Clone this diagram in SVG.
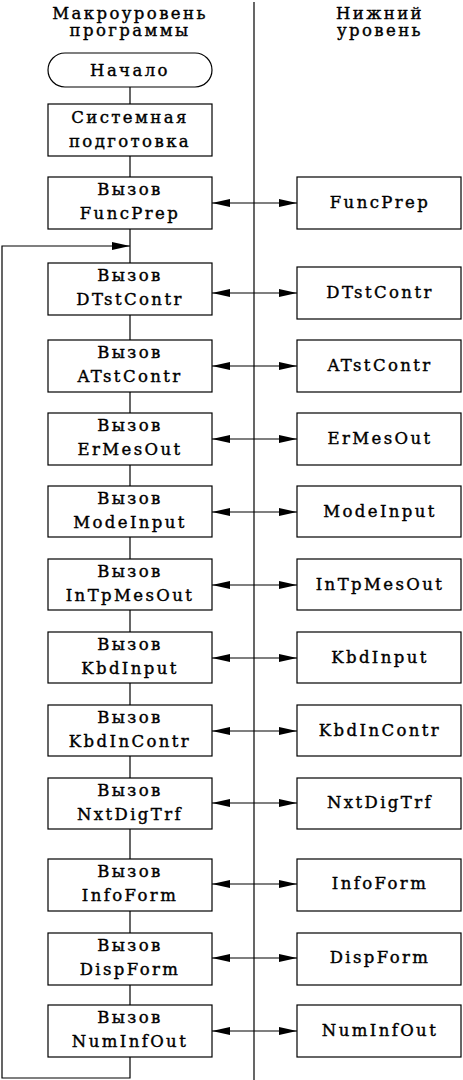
<svg xmlns="http://www.w3.org/2000/svg" width="463" height="1080" viewBox="0 0 463 1080">
<defs>
<style>
.box{fill:#fff;stroke:#000;stroke-width:1.2}
.ln{fill:none;stroke:#000;stroke-width:1.2}
text{font-family:"DejaVu Serif","Liberation Serif",serif;font-size:16.5px;fill:#000;stroke:#000;stroke-width:0.4;text-anchor:middle;letter-spacing:2.4px}
</style>
<marker id="ah" viewBox="0 0 18 8" refX="18" refY="4" markerWidth="18" markerHeight="8" markerUnits="userSpaceOnUse" orient="auto-start-reverse">
<path d="M0,0 L18,4 L0,8 Z" fill="#000"/>
</marker>
</defs>
<rect width="463" height="1080" fill="#fff"/>
<g id="headers">
<text x="130" y="19">Макроуровень</text>
<text x="130" y="36">программы</text>
<text x="380" y="19">Нижний</text>
<text x="380" y="36">уровень</text>
</g>
<g id="connectors">
<line class="ln" x1="254" y1="2" x2="254" y2="1080"/>
<line class="ln" x1="130" y1="87" x2="130" y2="104"/>
<line class="ln" x1="130" y1="156" x2="130" y2="177"/>
<line class="ln" x1="130" y1="229" x2="130" y2="263"/>
<line class="ln" x1="130" y1="315" x2="130" y2="340"/>
<line class="ln" x1="130" y1="392" x2="130" y2="413"/>
<line class="ln" x1="130" y1="465" x2="130" y2="486"/>
<line class="ln" x1="130" y1="537" x2="130" y2="559"/>
<line class="ln" x1="130" y1="610" x2="130" y2="632"/>
<line class="ln" x1="130" y1="683" x2="130" y2="705"/>
<line class="ln" x1="130" y1="756" x2="130" y2="778"/>
<line class="ln" x1="130" y1="829" x2="130" y2="859"/>
<line class="ln" x1="130" y1="911" x2="130" y2="933"/>
<line class="ln" x1="130" y1="985" x2="130" y2="1005"/>
<path class="ln" d="M130,1057 V1078 H2 V246 H130" marker-end="url(#ah)"/>
<line class="ln" x1="212" y1="203" x2="297" y2="203" marker-start="url(#ah)" marker-end="url(#ah)"/>
<line class="ln" x1="212" y1="293" x2="297" y2="293" marker-start="url(#ah)" marker-end="url(#ah)"/>
<line class="ln" x1="212" y1="366" x2="297" y2="366" marker-start="url(#ah)" marker-end="url(#ah)"/>
<line class="ln" x1="212" y1="439" x2="297" y2="439" marker-start="url(#ah)" marker-end="url(#ah)"/>
<line class="ln" x1="212" y1="512" x2="297" y2="512" marker-start="url(#ah)" marker-end="url(#ah)"/>
<line class="ln" x1="212" y1="585" x2="297" y2="585" marker-start="url(#ah)" marker-end="url(#ah)"/>
<line class="ln" x1="212" y1="658" x2="297" y2="658" marker-start="url(#ah)" marker-end="url(#ah)"/>
<line class="ln" x1="212" y1="731" x2="297" y2="731" marker-start="url(#ah)" marker-end="url(#ah)"/>
<line class="ln" x1="212" y1="803" x2="297" y2="803" marker-start="url(#ah)" marker-end="url(#ah)"/>
<line class="ln" x1="212" y1="884" x2="297" y2="884" marker-start="url(#ah)" marker-end="url(#ah)"/>
<line class="ln" x1="212" y1="958" x2="297" y2="958" marker-start="url(#ah)" marker-end="url(#ah)"/>
<line class="ln" x1="212" y1="1031" x2="297" y2="1031" marker-start="url(#ah)" marker-end="url(#ah)"/>
</g>
<g id="start"><rect class="box" x="48" y="53" width="164" height="34" rx="17"/><text x="130" y="76">Начало</text></g>
<g id="sysprep"><rect class="box" x="48" y="104" width="164" height="52"/><text x="130" y="123">Системная</text><text x="130" y="147">подготовка</text></g>
<g id="call-FuncPrep"><rect class="box" x="48" y="177" width="164" height="52"/><text x="130" y="195">Вызов</text><text x="130" y="219">FuncPrep</text></g>
<g id="call-DTstContr"><rect class="box" x="48" y="263" width="164" height="52"/><text x="130" y="281">Вызов</text><text x="130" y="305">DTstContr</text></g>
<g id="call-ATstContr"><rect class="box" x="48" y="340" width="164" height="52"/><text x="130" y="358">Вызов</text><text x="130" y="382">ATstContr</text></g>
<g id="call-ErMesOut"><rect class="box" x="48" y="413" width="164" height="52"/><text x="130" y="431">Вызов</text><text x="130" y="455">ErMesOut</text></g>
<g id="call-ModeInput"><rect class="box" x="48" y="486" width="164" height="51"/><text x="130" y="504">Вызов</text><text x="130" y="528">ModeInput</text></g>
<g id="call-InTpMesOut"><rect class="box" x="48" y="559" width="164" height="51"/><text x="130" y="577">Вызов</text><text x="130" y="601">InTpMesOut</text></g>
<g id="call-KbdInput"><rect class="box" x="48" y="632" width="164" height="51"/><text x="130" y="650">Вызов</text><text x="130" y="674">KbdInput</text></g>
<g id="call-KbdInContr"><rect class="box" x="48" y="705" width="164" height="51"/><text x="130" y="723">Вызов</text><text x="130" y="747">KbdInContr</text></g>
<g id="call-NxtDigTrf"><rect class="box" x="48" y="778" width="164" height="51"/><text x="130" y="796">Вызов</text><text x="130" y="820">NxtDigTrf</text></g>
<g id="call-InfoForm"><rect class="box" x="48" y="859" width="164" height="52"/><text x="130" y="877">Вызов</text><text x="130" y="901">InfoForm</text></g>
<g id="call-DispForm"><rect class="box" x="48" y="933" width="164" height="52"/><text x="130" y="951">Вызов</text><text x="130" y="975">DispForm</text></g>
<g id="call-NumInfOut"><rect class="box" x="48" y="1005" width="164" height="52"/><text x="130" y="1023">Вызов</text><text x="130" y="1047">NumInfOut</text></g>
<g id="FuncPrep"><rect class="box" x="297" y="177" width="164" height="52"/><text x="380" y="208">FuncPrep</text></g>
<g id="DTstContr"><rect class="box" x="297" y="267" width="164" height="52"/><text x="380" y="298">DTstContr</text></g>
<g id="ATstContr"><rect class="box" x="297" y="340" width="164" height="52"/><text x="380" y="371">ATstContr</text></g>
<g id="ErMesOut"><rect class="box" x="297" y="413" width="164" height="52"/><text x="380" y="444">ErMesOut</text></g>
<g id="ModeInput"><rect class="box" x="297" y="486" width="164" height="51"/><text x="380" y="517">ModeInput</text></g>
<g id="InTpMesOut"><rect class="box" x="297" y="559" width="164" height="51"/><text x="380" y="590">InTpMesOut</text></g>
<g id="KbdInput"><rect class="box" x="297" y="632" width="164" height="51"/><text x="380" y="663">KbdInput</text></g>
<g id="KbdInContr"><rect class="box" x="297" y="705" width="164" height="51"/><text x="380" y="736">KbdInContr</text></g>
<g id="NxtDigTrf"><rect class="box" x="297" y="778" width="164" height="51"/><text x="380" y="808">NxtDigTrf</text></g>
<g id="InfoForm"><rect class="box" x="297" y="859" width="164" height="52"/><text x="380" y="889">InfoForm</text></g>
<g id="DispForm"><rect class="box" x="297" y="933" width="164" height="52"/><text x="380" y="963">DispForm</text></g>
<g id="NumInfOut"><rect class="box" x="297" y="1005" width="164" height="52"/><text x="380" y="1036">NumInfOut</text></g>
</svg>
